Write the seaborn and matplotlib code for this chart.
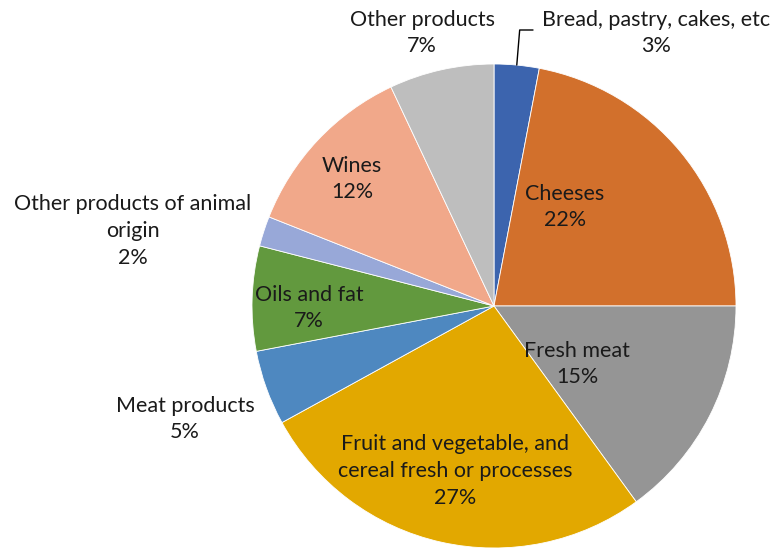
import matplotlib
matplotlib.use("Agg")
import matplotlib.pyplot as plt
import seaborn as sns
import numpy as np

sns.set_theme(style="white")
plt.rcParams['font.family'] = ['Lato', 'DejaVu Sans']

categories = ["Bread, pastry, cakes, etc", "Cheeses", "Fresh meat",
              "Fruit and vegetable, and\ncereal fresh or processes",
              "Meat products", "Oils and fat", "Other products of animal\norigin",
              "Wines", "Other products"]
values = [3, 22, 15, 27, 5, 7, 2, 12, 7]
colors = ["#3C64AE", "#D2702C", "#959595", "#E2A800", "#4E88C0",
          "#62993E", "#98A8D8", "#F1A88A", "#BEBEBE"]

# label layout (pixel centers in the reference image)
label_px = [(656, 33), (565, 207), (577, 364), (455, 471), (185, 419),
            (309, 308), (133, 231), (352, 179), (422, 33)]

W, H = 776, 550
cx, cy, R = 494, 306, 242

fig = plt.figure(figsize=(W / 100, H / 100), dpi=100)
ax = fig.add_axes([0, 0, 1, 1])
wedges, _ = ax.pie(values, colors=colors, startangle=90, counterclock=False,
                   radius=1, wedgeprops=dict(edgecolor="white", linewidth=0.6))
ax.set_xlim(-cx / R, (W - cx) / R)
ax.set_ylim((cy - H) / R, cy / R)
ax.set_aspect("auto")
ax.axis("off")

for name, v, (px, py) in zip(categories, values, label_px):
    x = (px - cx) / R
    y = (cy - py) / R
    ax.text(x, y, f"{name}\n{v}%", ha="center", va="center", fontsize=15.5,
            color="#1a1a1a", linespacing=1.42)

# leader line for the small first slice
ang = np.deg2rad(90 - values[0] / sum(values) * 360 / 2)
x0, y0 = np.cos(ang), np.sin(ang)
yl = (cy - 30) / R
ax.plot([x0, x0 + 0.012, (533 - cx) / R], [y0, yl, yl], color="black", lw=1)

fig.savefig("out.png", dpi=100)
